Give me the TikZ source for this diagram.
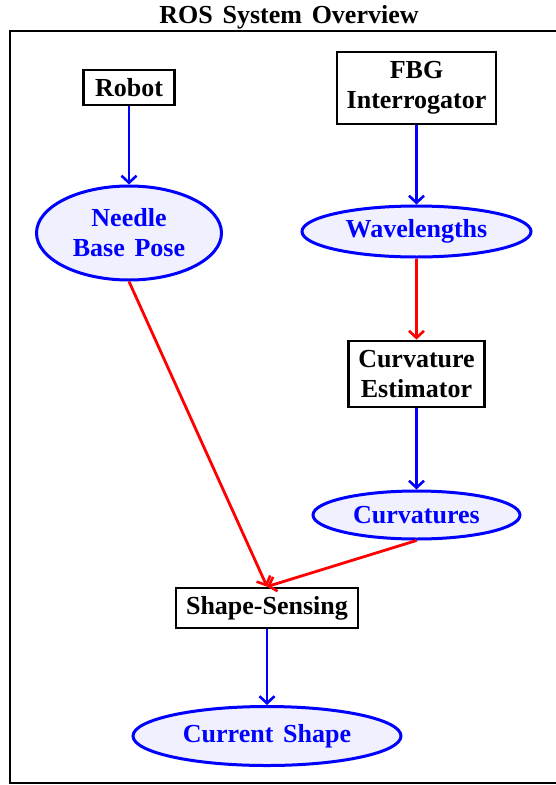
\documentclass[tikz,border=0pt]{standalone}
\usepackage{fontspec}
\setmainfont[WordSpace=1.5]{Liberation Serif}
\usetikzlibrary{shapes.geometric,arrows.meta}
\begin{document}
\begin{tikzpicture}[x=1pt,y=-1pt,
  lbl/.style={font=\bfseries\fontsize{26}{30}\selectfont, align=center},
  procbox/.style={lbl, draw=black, line width=2.8pt, fill=white, inner sep=0pt},
  topic/.style={lbl, ellipse, draw=blue, line width=3pt, fill=blue!6, text=blue, inner sep=0pt},
  conn/.style={line width=2.8pt, -{Straight Barb[length=7pt,width=15pt,line width=2.6pt]}},
  bluec/.style={conn, draw=blue},
  redc/.style={conn, draw=red}]
\useasboundingbox (0,0) rectangle (555,785);
\draw[line width=2.6pt] (558,31) -- (10,31) -- (10,783) -- (558,783);
\node[lbl] (title) at (289,17) {ROS System Overview};
\node[procbox, minimum width=91pt, minimum height=35pt] (robot) at (129,87.5) {Robot};
\node[procbox, minimum width=159pt, minimum height=72pt] (fbg) at (416.5,88) {FBG\\Interrogator};
\node[topic, minimum width=185pt, minimum height=94pt] (needle) at (129,233) {Needle\\Base Pose};
\node[topic, minimum width=229pt, minimum height=51pt] (wave) at (416.5,231.5) {Wavelengths};
\node[procbox, minimum width=136pt, minimum height=66pt] (curvest) at (416.5,374) {Curvature\\Estimator};
\node[topic, minimum width=207pt, minimum height=48pt] (curv) at (416.5,515) {Curvatures};
\node[procbox, minimum width=182pt, minimum height=40pt] (shape) at (267,608) {Shape-Sensing};
\node[topic, minimum width=268pt, minimum height=59pt] (current) at (267,736) {Current Shape};
\draw[bluec] (robot) -- (needle);
\draw[bluec] (fbg) -- (wave);
\draw[redc] (wave) -- (curvest);
\draw[bluec] (curvest) -- (curv);
\draw[redc] (needle.south) -- (shape.north);
\draw[redc] (curv.south) -- (shape.north);
\draw[bluec] (shape) -- (current);
\end{tikzpicture}
\end{document}
